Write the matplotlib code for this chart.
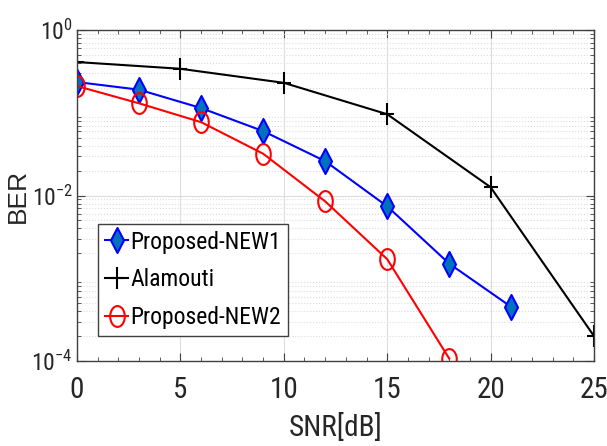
import matplotlib
matplotlib.use("Agg")
import matplotlib.pyplot as plt
import matplotlib.font_manager as fm
from matplotlib.path import Path
from matplotlib.ticker import LogLocator, FixedLocator, NullFormatter
import numpy as np

avail = {f.name for f in fm.fontManager.ttflist}
NARROW = next((n for n in ['Liberation Sans Narrow', 'Arial Narrow', 'Roboto Condensed',
                           'Archivo Narrow', 'Barlow Condensed'] if n in avail), 'Liberation Sans')

plt.rcParams['font.family'] = [NARROW, 'DejaVu Sans']
plt.rcParams['mathtext.fontset'] = 'custom'
plt.rcParams['mathtext.rm'] = NARROW
plt.rcParams['mathtext.it'] = NARROW

snr_new1 = [0, 3, 6, 9, 12, 15, 18, 21]
ber_new1 = [0.235, 0.19, 0.114, 0.060, 0.026, 0.0074, 0.0015, 4.5e-4]
snr_alam = [0, 5, 10, 15, 20, 25]
ber_alam = [0.41, 0.34, 0.23, 0.096, 0.0126, 2.0e-4]
snr_new2 = [0, 3, 6, 9, 12, 15, 18]
ber_new2 = [0.21, 0.13, 0.077, 0.032, 0.0085, 0.0017, 1.07e-4]

xticks = [0, 5, 10, 15, 20, 25]
yticks = [1e-4, 1e-2, 1e0]
ytick_labels = [r'$10^{-4}$', r'$10^{-2}$', r'$10^{0}$']

# horizontally squeezed marker shapes (the reference is drawn with a narrow aspect)
t = np.linspace(0, 2 * np.pi, 61)
ellipse = Path(np.column_stack([0.7 * np.cos(t), np.sin(t)]))
plus = Path([(-0.62, 0), (0.62, 0), (0, -1), (0, 1)],
            [Path.MOVETO, Path.LINETO, Path.MOVETO, Path.LINETO])
diamond = Path([(0, 1), (0.52, 0), (0, -1), (-0.52, 0), (0, 1)],
               [Path.MOVETO, Path.LINETO, Path.LINETO, Path.LINETO, Path.CLOSEPOLY])

TXT = '#262626'

fig = plt.figure(figsize=(6.07, 4.46), dpi=100)
ax = fig.add_axes([77/607, 1 - 361/446, 517/607, 331/446])

ax.semilogy(snr_new1, ber_new1, color='blue', lw=1.5, marker=diamond, ms=18,
            mfc='#0072BD', mec='blue', mew=1.5, label='Proposed-NEW1')
ax.semilogy(snr_alam, ber_alam, color='black', lw=1.5, marker=plus, ms=16,
            mfc='none', mec='black', mew=1.5, label='Alamouti')
ax.semilogy(snr_new2, ber_new2, color='red', lw=1.5, marker=ellipse, ms=15,
            mfc='none', mec='red', mew=1.5, label='Proposed-NEW2')

ax.set_xlim(0, 25)
ax.set_ylim(1e-4, 1e0)
ax.set_xticks(xticks)
ax.xaxis.set_minor_locator(FixedLocator(np.arange(0, 26, 1)))
ax.set_yticks(yticks)
ax.set_yticklabels(ytick_labels)
ax.yaxis.set_minor_locator(LogLocator(base=10, subs=np.arange(2, 10), numticks=20))
ax.yaxis.set_minor_formatter(NullFormatter())

ax.grid(True, which='major', color='#dcdcdc', lw=0.8)
ax.grid(True, which='minor', axis='y', color='#dcdcdc', lw=0.8, ls=':')
ax.set_axisbelow(True)

ax.tick_params(which='both', direction='in', top=True, right=True, colors='#404040',
               labelcolor=TXT)
ax.tick_params(which='major', length=6)
ax.tick_params(which='minor', length=3)
ax.tick_params(axis='x', which='major', labelsize=21, pad=11)
ax.tick_params(axis='y', which='major', labelsize=17, pad=3)
for s in ax.spines.values():
    s.set_color('#404040')
    s.set_linewidth(1.0)

ax.set_xlabel('SNR[dB]', fontsize=21, color=TXT, labelpad=6)
ax.set_ylabel('BER', fontsize=19, color=TXT, family=['Liberation Sans', 'DejaVu Sans'],
              va='center')
ax.yaxis.set_label_coords(-0.114, 0.5)

leg = ax.legend(loc='upper left', bbox_to_anchor=(0.04, 0.415), fontsize=17,
                handlelength=1.0, handletextpad=0.1, borderpad=0.3,
                labelspacing=0.62, fancybox=False, framealpha=1,
                edgecolor='#404040', borderaxespad=0)
leg.get_frame().set_linewidth(1.0)
for txt in leg.get_texts():
    txt.set_color('black')

fig.savefig('out.png', dpi=100)
